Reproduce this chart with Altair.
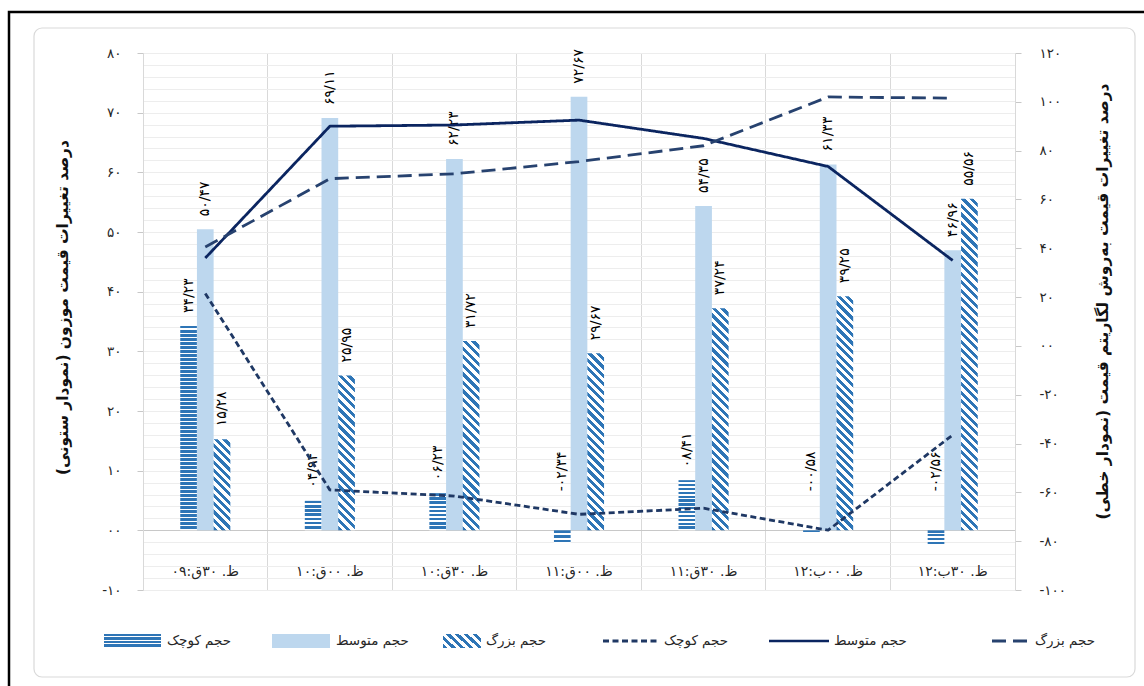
import altair as alt

FA_DIGITS = str.maketrans("0123456789", "۰۱۲۳۴۵۶۷۸۹")

# ---------------- data ----------------
times = ["09:30", "10:00", "10:30", "11:00", "11:30", "12:00", "12:30"]
# visual (left-to-right) order of the category labels as drawn in the reference
time_labels = ["۰۹:ق۳۰ .ظ", "۱۰:ق۰۰ .ظ", "۱۰:ق۳۰ .ظ", "۱۱:ق۰۰ .ظ",
               "۱۱:ق۳۰ .ظ", "۱۲:ب۰۰ .ظ", "۱۲:ب۳۰ .ظ"]
sizes = ["small", "medium", "large"]
size_names = ["حجم کوچک", "حجم متوسط", "حجم بزرگ"]

bar_small = [34.23, 4.94, 6.23, -2.34, 8.41, -0.58, -2.56]
bar_medium = [50.47, 69.11, 62.23, 72.67, 54.35, 61.33, 46.96]
bar_large = [15.28, 25.95, 31.72, 29.67, 37.24, 39.25, 55.56]

line_small = [21.5, -59, -61.5, -69, -66.5, -75.5, -36.5]
line_medium = [36, 90, 90.5, 92.5, 85, 73.5, 35]
line_large = [40.5, 68.5, 70.5, 75.5, 82, 102, 101.5]

left_ticks = list(range(-10, 81, 10))
right_ticks = list(range(-100, 121, 20))

left_title = "درصد تغییرات قیمت موزون (نمودار ستونی)"
right_title = "درصد تغییرات قیمت به\u200cروش لگاریتم قیمت (نمودار خطی)"

# ---------------- layout / style ----------------
W, H = 872, 537
PAD_L, PAD_T = 143, 53
PAD_R = 1144 - PAD_L - W
PAD_B = 686 - PAD_T - H
L_DOM = [-10, 80]
R_DOM = [-100, 120]
PX_L = H / (L_DOM[1] - L_DOM[0])
BAND = W / len(times)
BAR_W = 16.7
OFF0 = (BAND - 3 * BAR_W) / 2

FONT = "DejaVu Sans"
TXT = "#262626"
BLUE = "#2E75B6"
MED = "#BDD7EE"
LINE_COLORS = ["#1F3864", "#0B2560", "#27426F"]
LINE_DASH = [[6, 3.5], [1, 0], [14, 7]]
LINE_W = [3, 2.6, 3]


def fa(s):
    return s.translate(FA_DIGITS)


def fmt(v):
    s = f"{abs(v):05.2f}".replace(".", "/")
    return fa(("-" if v < 0 else "") + s)


def rtl(s):
    return "\u200f" + s + "\u200f"


def hstripes(h, period=4.0, frac=0.6, color=BLUE):
    n = max(1, round(h / period))
    stops = []
    for i in range(n):
        a, b, c = i / n, (i + frac) / n, (i + 1) / n
        stops += [{"offset": round(a, 5), "color": color},
                  {"offset": round(b, 5), "color": color},
                  {"offset": round(b, 5), "color": "#ffffff"},
                  {"offset": round(c, 5), "color": "#ffffff"}]
    return {"gradient": "linear", "x1": 0, "y1": 0, "x2": 0, "y2": 1, "stops": stops}


def dstripes(w, h, period=8.5, frac=0.5, color=BLUE):
    r = h / w
    s = (1 + r) / (1 + r * r)
    n = max(1, round((w + h) / period))
    stops = []
    for i in range(n):
        a, b, c = i / n, (i + frac) / n, (i + 1) / n
        stops += [{"offset": round(a, 5), "color": color},
                  {"offset": round(b, 5), "color": color},
                  {"offset": round(b, 5), "color": "#ffffff"},
                  {"offset": round(c, 5), "color": "#ffffff"}]
    return {"gradient": "linear", "x1": 0, "y1": 1, "x2": s, "y2": 1 - s * r, "stops": stops}


def px(xabs):
    return xabs - PAD_L


def py(yabs):
    return yabs - PAD_T


def label_expr(ticks):
    parts = [f"datum.value === {v} ? '{fa(f'{v:02d}')}'" for v in ticks]
    return " : ".join(parts) + " : ''"


# ---------------- tables ----------------
bar_rows = []
for sz, vals in zip(sizes, [bar_small, bar_medium, bar_large]):
    for t, v in zip(times, vals):
        h = abs(v) * PX_L
        if sz == "small":
            fill = hstripes(h)
        elif sz == "medium":
            fill = MED
        else:
            fill = dstripes(BAR_W, h)
        bar_rows.append({"time": t, "size": sz, "value": v, "ly": max(v, 0),
                         "label": fmt(v), "fill": fill})
bar_data = alt.Data(values=bar_rows)

line_rows = [{"time": t, "series": s, "v": v}
             for s, vals in zip(sizes, [line_small, line_medium, line_large])
             for t, v in zip(times, vals)]
line_data = alt.Data(values=line_rows)

cat_data = alt.Data(values=[{"time": t, "tl": "\u202d" + l + "\u202c"}
                            for t, l in zip(times, time_labels)])
one = alt.Data(values=[{"k": 1}])

# ---------------- encodings ----------------
x_axis = alt.Axis(grid=True, bandPosition=0, gridColor="#D9D9D9", gridWidth=1,
                  labels=False, ticks=False, domain=False, title=None)
X_ENC = alt.X("time:N", scale=alt.Scale(domain=times, paddingInner=0, paddingOuter=0),
              axis=x_axis)
XOFF = alt.XOffset("size:N", scale=alt.Scale(domain=sizes, range=[OFF0, OFF0 + 3 * BAR_W],
                                              paddingInner=0, paddingOuter=0))

left_axis = alt.Axis(
    orient="left", values=list(range(-10, 81, 2)), labelExpr=label_expr(left_ticks),
    labelOverlap=False, grid=True,
    gridColor={"condition": {"test": "datum.value === 0", "value": "#C8C8C8"}, "value": "#EDEDED"},
    gridWidth=1,
    tickOpacity={"condition": {"test": "datum.value % 10 === 0", "value": 1}, "value": 0},
    tickColor="#C8C8C8", tickSize=6, domainColor="#D9D9D9",
    labelFont=FONT, labelFontSize=13.5, labelColor=TXT, labelPadding=16,
    title=rtl(left_title), titleFont=FONT, titleFontSize=15.5, titleFontWeight="bold",
    titleColor="#111111", titleAngle=270, titleX=-81, titleY=254,
    titleAlign="center", titleBaseline="middle",
)
right_axis = alt.Axis(
    orient="right", values=right_ticks, labelExpr=label_expr(right_ticks),
    labelOverlap=False, grid=False, tickColor="#C8C8C8", tickSize=6, domainColor="#D9D9D9",
    labelFont=FONT, labelFontSize=13.5, labelColor=TXT, labelPadding=18,
    title=rtl(right_title), titleFont=FONT, titleFontSize=15.5, titleFontWeight="bold",
    titleColor="#111111", titleAngle=270, titleX=87, titleY=248,
    titleAlign="center", titleBaseline="middle",
)
Y_SCALE_L = alt.Scale(domain=L_DOM, nice=False, zero=False)

# ---------------- layers ----------------
frame_black = alt.Chart(one).mark_rect(filled=False, stroke="#000000", strokeWidth=2.5).encode(
    x=alt.value(px(9)), x2=alt.value(px(1160)), y=alt.value(py(12)), y2=alt.value(py(700)))
frame_gray = alt.Chart(one).mark_rect(filled=False, stroke="#D9D9D9", strokeWidth=1.2,
                                      cornerRadius=8).encode(
    x=alt.value(px(34)), x2=alt.value(px(1135)), y=alt.value(py(28)), y2=alt.value(py(677)))

bars = alt.Chart(bar_data).mark_bar().encode(
    x=X_ENC, xOffset=XOFF,
    y=alt.Y("value:Q", scale=Y_SCALE_L, axis=left_axis),
    fill=alt.Fill("fill:N", scale=None),
)

lab_pos = alt.Chart(bar_data).transform_filter("datum.value >= 0").mark_text(
    angle=270, align="left", baseline="middle", dx=13, font=FONT, fontSize=14, color="#000000"
).encode(x=X_ENC, xOffset=XOFF, y=alt.Y("ly:Q", scale=Y_SCALE_L, axis=left_axis),
         text="label:N")

lab_neg = alt.Chart(bar_data).transform_filter("datum.value < 0").mark_text(
    angle=270, align="left", baseline="middle", dx=39, font=FONT, fontSize=14, color="#000000"
).encode(x=X_ENC, xOffset=XOFF, y=alt.Y("ly:Q", scale=Y_SCALE_L, axis=left_axis),
         text="label:N")

cats = alt.Chart(cat_data).mark_text(
    font=FONT, fontSize=14, color=TXT, baseline="middle", align="center"
).encode(x=X_ENC, y=alt.value(py(572)), text="tl:N")

# legend (manual)
LEG_Y = 641
leg_swatch_x = [(104, 161), (272, 330), (443, 481)]
leg_line_x = [(603, 659), (769, 829), (992, 1027)]
leg_text_x = [167, 336, 486, 664, 834, 1035]
leg_fills = [hstripes(14, 3.5), MED, dstripes(38, 15)]

legend_layers = []
for (xa, xb), f in zip(leg_swatch_x, leg_fills):
    legend_layers.append(alt.Chart(one).mark_rect(fill=f).encode(
        x=alt.value(px(xa)), x2=alt.value(px(xb)),
        y=alt.value(py(LEG_Y - 7)), y2=alt.value(py(LEG_Y + 7))))
for (xa, xb), c, d, w in zip(leg_line_x, LINE_COLORS, LINE_DASH, LINE_W):
    legend_layers.append(alt.Chart(one).mark_rule(color=c, strokeDash=d, strokeWidth=w).encode(
        x=alt.value(px(xa)), x2=alt.value(px(xb)), y=alt.value(py(LEG_Y))))
for tx, name in zip(leg_text_x, size_names + size_names):
    legend_layers.append(alt.Chart(one).mark_text(
        font=FONT, fontSize=13.5, color=TXT, align="left", baseline="middle").encode(
        x=alt.value(px(tx)), y=alt.value(py(LEG_Y)), text=alt.value(name)))

lines = alt.Chart(line_data).mark_line(strokeWidth=2.8, strokeJoin="round").encode(
    x=X_ENC,
    y=alt.Y("v:Q", scale=alt.Scale(domain=R_DOM, nice=False, zero=False), axis=right_axis),
    color=alt.Color("series:N", scale=alt.Scale(domain=sizes, range=LINE_COLORS), legend=None),
    strokeDash=alt.StrokeDash("series:N", scale=alt.Scale(domain=sizes, range=LINE_DASH),
                              legend=None),
)

left = alt.layer(frame_black, frame_gray, bars, lab_pos, lab_neg, cats, *legend_layers)

chart = alt.layer(left, lines).resolve_scale(y="independent").properties(
    width=W, height=H,
    padding={"left": PAD_L, "top": PAD_T, "right": PAD_R, "bottom": PAD_B},
    autosize=alt.AutoSizeParams(type="none"),
    background="white",
).configure_view(stroke=None)

chart.save("out.html", embed_options={"renderer": "svg", "actions": False})
